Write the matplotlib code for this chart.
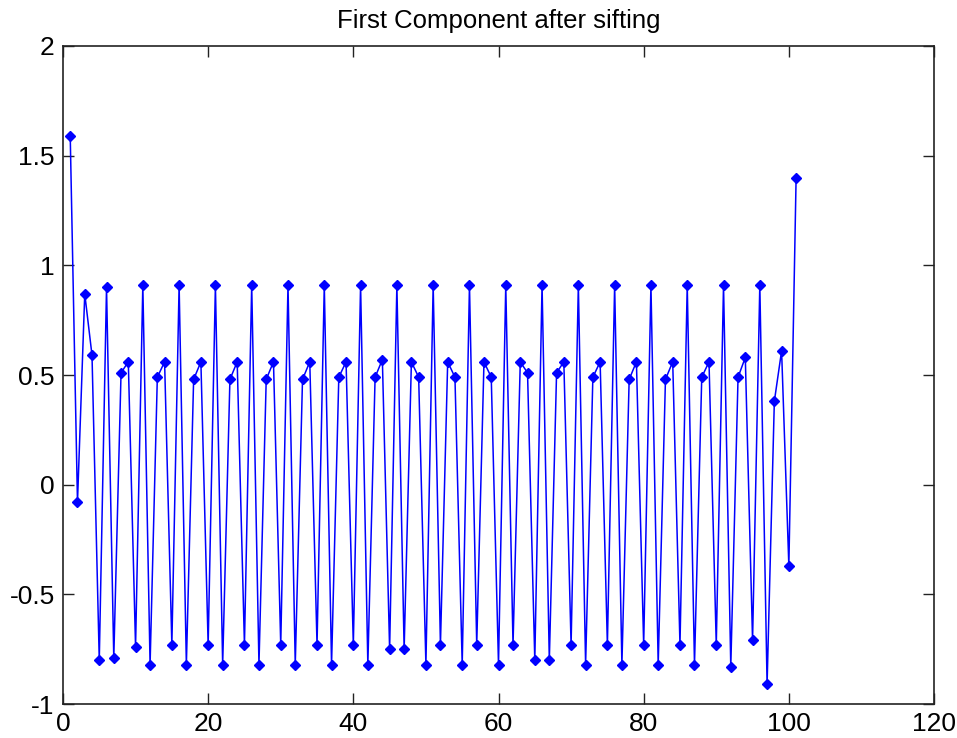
import numpy as np
import matplotlib
matplotlib.use("Agg")
from matplotlib import pyplot as plt

# Valeurs (indices 1..101)
sample_index = list(range(1, 102))
component = [
    1.59, -0.08, 0.87, 0.59, -0.80,
    0.90, -0.79, 0.51, 0.56, -0.74,
    0.91, -0.82, 0.49, 0.56, -0.73,
    0.91, -0.82, 0.48, 0.56, -0.73,
    0.91, -0.82, 0.48, 0.56, -0.73,
    0.91, -0.82, 0.48, 0.56, -0.73,
    0.91, -0.82, 0.48, 0.56, -0.73,
    0.91, -0.82, 0.49, 0.56, -0.73,
    0.91, -0.82, 0.49, 0.57, -0.75,
    0.91, -0.75, 0.56, 0.49, -0.82,
    0.91, -0.73, 0.56, 0.49, -0.82,
    0.91, -0.73, 0.56, 0.49, -0.82,
    0.91, -0.73, 0.56, 0.51, -0.80,
    0.91, -0.80, 0.51, 0.56, -0.73,
    0.91, -0.82, 0.49, 0.56, -0.73,
    0.91, -0.82, 0.48, 0.56, -0.73,
    0.91, -0.82, 0.48, 0.56, -0.73,
    0.91, -0.82, 0.49, 0.56, -0.73,
    0.91, -0.83, 0.49, 0.58, -0.71,
    0.91, -0.91, 0.38, 0.61, -0.37,
    1.40,
]
x_ticks = [0, 20, 40, 60, 80, 100, 120]
y_ticks = [-1, -0.5, 0, 0.5, 1, 1.5, 2]
y_tick_labels = ["-1", "-0.5", "0", "0.5", "1", "1.5", "2"]

plt.rcParams["font.family"] = ["Liberation Sans", "DejaVu Sans"]
plt.rcParams["axes.unicode_minus"] = False

fig = plt.figure(figsize=(9.57, 7.38), dpi=100)
ax = fig.add_axes([0.0658, 0.046, 0.9102, 0.8917])

ax.plot(sample_index, component, color="#0000ff", linewidth=1.1,
        marker="D", markersize=5, markerfacecolor="#0000ff",
        markeredgecolor="#0000ff")

ax.set_xlim(0, 120)
ax.set_ylim(-1, 2)
ax.set_xticks(x_ticks)
ax.set_yticks(y_ticks)
ax.set_yticklabels(y_tick_labels)
ax.tick_params(direction="in", length=8, width=1, top=True, right=True,
               labelsize=19, pad=6, color="#222222")
for spine in ax.spines.values():
    spine.set_linewidth(1.2)
    spine.set_color("#222222")

ax.set_title("First Component after sifting", fontsize=18.5, pad=13)

fig.savefig("out.png", dpi=100)
